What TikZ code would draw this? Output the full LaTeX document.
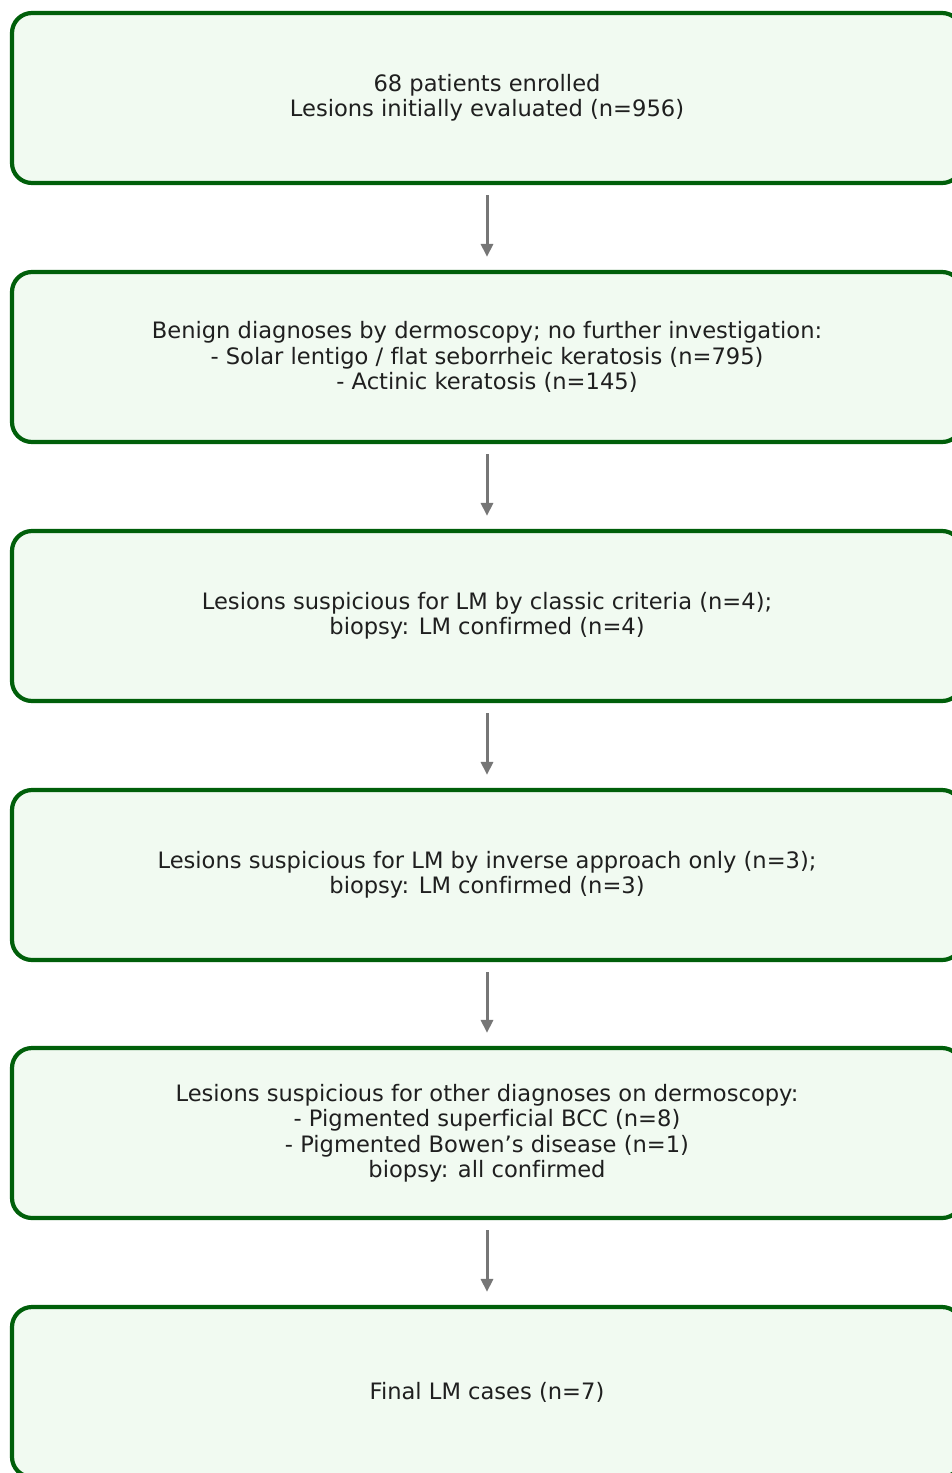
\documentclass[tikz,border=0pt]{standalone}
\usepackage{fontspec}
\setmainfont[Ligatures=NoCommon]{DejaVu Sans}
\usetikzlibrary{shapes}
\usetikzlibrary{positioning}
\usetikzlibrary{arrows.meta}
\definecolor{boxgreen}{RGB}{0,95,10}
\definecolor{boxfill}{RGB}{241,250,241}
\definecolor{arrowgray}{RGB}{118,118,118}
\tikzset{
    mynode/.style = {rectangle, rounded corners=20pt, line width=4.2pt, draw=boxgreen, fill=boxfill, align=center,
                     minimum width=950pt, minimum height=170pt, text=black!88,
                     font=\fontsize{22.6}{25.5}\selectfont},
    edgen/.style = {-{Triangle[length=13pt,width=12pt]}, line width=3pt, arrowgray, shorten <=10pt, shorten >=13pt},
}

\begin{document}
\begin{tikzpicture}[x=1pt,y=-1pt]
\useasboundingbox (0,0) rectangle (952,1473);
\clip (0,0) rectangle (952,1473);
\node[mynode] at (487,  98) (1) {68 patients enrolled\\Lesions initially evaluated (n=956)};
\node[mynode] at (487, 357) (2) {Benign diagnoses by dermoscopy; no further investigation:\\- Solar lentigo / flat seborrheic keratosis (n=795)\\- Actinic keratosis (n=145)};
\node[mynode] at (487, 616) (3) {Lesions suspicious for LM by classic criteria (n=4);\\biopsy: LM confirmed (n=4)};
\node[mynode] at (487, 875) (4) {Lesions suspicious for LM by inverse approach only (n=3);\\biopsy: LM confirmed (n=3)};
\node[mynode] at (487,1133) (5) {Lesions suspicious for other diagnoses on dermoscopy:\\- Pigmented superficial BCC (n=8)\\- Pigmented Bowen’s disease (n=1)\\biopsy: all confirmed};
\node[mynode] at (487,1392) (6) {Final LM cases (n=7)};

\draw[edgen] (1) -- (2);
\draw[edgen] (2) -- (3);
\draw[edgen] (3) -- (4);
\draw[edgen] (4) -- (5);
\draw[edgen] (5) -- (6);

\end{tikzpicture}
\end{document}
